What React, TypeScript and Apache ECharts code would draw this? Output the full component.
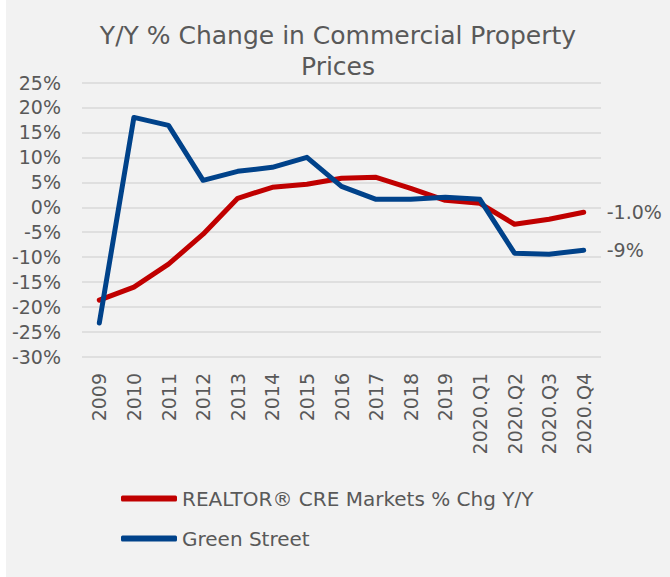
import React, { useEffect, useRef } from "react";
import * as echarts from "echarts";

const categories = ["2009","2010","2011","2012","2013","2014","2015","2016","2017","2018","2019","2020.Q1","2020.Q2","2020.Q3","2020.Q4"];
const realtorValues = [-18.6, -16.0, -11.4, -5.4, 1.8, 4.0, 4.6, 5.8, 6.0, 3.8, 1.4, 0.8, -3.4, -2.4, -1.0];
const greenStreetValues = [-23.2, 18.0, 16.4, 5.4, 7.2, 8.0, 10.0, 4.2, 1.6, 1.6, 2.0, 1.6, -9.2, -9.4, -8.6];
const seriesNames = ["REALTOR® CRE Markets % Chg Y/Y", "Green Street"];
const titleLines = ["Y/Y % Change in Commercial Property", "Prices"];

const TEXT = "#595959";
const AXIS_FONT = "DejaVu Sans";

export default function App() {
  const ref = useRef<HTMLDivElement>(null);
  useEffect(() => {
    if (!ref.current) return;
    const chart = echarts.init(ref.current, null, { renderer: "svg" });
    const titleStyle = { fontFamily: AXIS_FONT, fontSize: 25, fontWeight: "normal", color: TEXT, lineHeight: 28 };
    chart.setOption({
      animation: false,
      backgroundColor: "#f2f2f2",
      title: [
        { text: titleLines[0], left: "center", top: 21, padding: 0, textStyle: titleStyle },
        { text: titleLines[1], left: "center", top: 52, padding: 0, textStyle: titleStyle },
      ],
      grid: { left: 76, right: 69, top: 82.5, bottom: 220, containLabel: false },
      legend: {
        orient: "vertical",
        left: 110,
        top: 483,
        itemGap: 19,
        itemWidth: 56,
        itemHeight: 6,
        icon: "roundRect",
        textStyle: { fontFamily: AXIS_FONT, fontSize: 20, color: TEXT, lineHeight: 21 },
        data: seriesNames,
      },
      xAxis: {
        type: "category",
        data: categories,
        boundaryGap: true,
        axisLine: { show: false },
        axisTick: { show: false },
        axisLabel: { rotate: 90, margin: 16, fontFamily: AXIS_FONT, fontSize: 19, color: TEXT, interval: 0 },
      },
      yAxis: {
        type: "value",
        min: -30,
        max: 25,
        interval: 5,
        axisLine: { show: false },
        axisTick: { show: false },
        axisLabel: { formatter: (v: number) => `${v}%`, margin: 21, fontFamily: AXIS_FONT, fontSize: 19, color: TEXT },
        splitLine: { lineStyle: { color: "#d9d9d9", width: 1.5 } },
      },
      series: [
        {
          name: seriesNames[0],
          type: "line",
          data: realtorValues,
          showSymbol: false,
          symbol: "none",
          lineStyle: { color: "#c00000", width: 5, cap: "round", join: "round" },
          itemStyle: { color: "#c00000" },
          z: 2,
          endLabel: {
            show: true,
            distance: 23,
            formatter: (p: any) => `${Number(p.value).toFixed(1)}%`,
            fontFamily: AXIS_FONT, fontSize: 19, color: TEXT,
          },
        },
        {
          name: seriesNames[1],
          type: "line",
          data: greenStreetValues,
          showSymbol: false,
          symbol: "none",
          lineStyle: { color: "#00428a", width: 5, cap: "round", join: "round" },
          itemStyle: { color: "#00428a" },
          z: 3,
          endLabel: {
            show: true,
            distance: 23,
            formatter: (p: any) => `${Math.round(Number(p.value))}%`,
            fontFamily: AXIS_FONT, fontSize: 19, color: TEXT,
          },
        },
      ],
    });
    return () => chart.dispose();
  }, []);
  return (
    <div style={{ position: "fixed", left: 0, top: 0, width: 670, height: 577, background: "#ffffff" }}>
      <div ref={ref} style={{ position: "absolute", left: 6, top: 0, width: 664, height: 577 }} />
    </div>
  );
}
